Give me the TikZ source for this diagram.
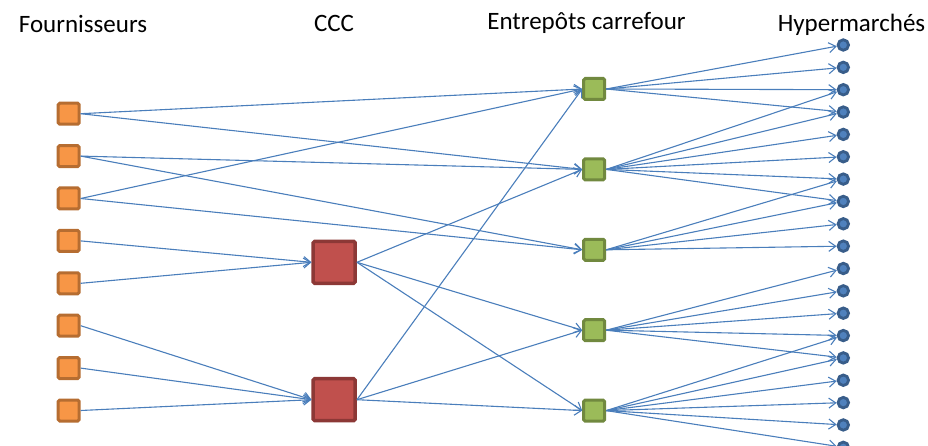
\documentclass[tikz,border=0pt]{standalone}
\usepackage{fontspec}
\setmainfont{Carlito}
\usepackage{tikz}
\usetikzlibrary{arrows.meta}
\usetikzlibrary{scopes}

\definecolor{supfill}{HTML}{F79646}
\definecolor{supdraw}{HTML}{B66D31}
\definecolor{cccfill}{HTML}{C0504D}
\definecolor{cccdraw}{HTML}{8C3836}
\definecolor{entfill}{HTML}{9BBB59}
\definecolor{entdraw}{HTML}{71893F}
\definecolor{hypfill}{HTML}{4F81BD}
\definecolor{hypdraw}{HTML}{385D8A}
\definecolor{linkblue}{HTML}{4A7EBB}

\begin{document}
\begin{tikzpicture}[x=1pt,y=-1pt,
    supplier/.style={rectangle,rounded corners=1.5pt,draw=supdraw,fill=supfill,line width=3pt,minimum size=21pt,inner sep=0pt},
    ccc/.style={rectangle,rounded corners=1.5pt,draw=cccdraw,fill=cccfill,line width=3.5pt,minimum size=42pt,inner sep=0pt},
    depot/.style={rectangle,rounded corners=1.5pt,draw=entdraw,fill=entfill,line width=3pt,minimum size=21pt,inner sep=0pt},
    hyper/.style={circle,draw=hypdraw,fill=hypfill,line width=2.8pt,minimum size=10.5pt,inner sep=0pt},
    title/.style={anchor=base,font=\fontsize{25}{30}\selectfont}]
\useasboundingbox (0,0) rectangle (928,446);

% column titles
\node[title] (tf) at (83,33) {Fournisseurs};
\node[title] (tc) at (334,32) {CCC};
\node[title] (te) at (586.5,30) {Entrepôts carrefour};
\node[title] (th) at (851.5,32) {Hypermarchés};

\begin{scope}[every node/.style={supplier}]
    \node (f1) at (68.7,113.7) {};
    \node (f2) at (68.7,156.1) {};
    \node (f3) at (68.7,198.5) {};
    \node (f4) at (68.7,240.9) {};
    \node (f5) at (68.7,283.3) {};
    \node (f6) at (68.7,325.7) {};
    \node (f7) at (68.7,368.1) {};
    \node (f8) at (68.7,410.5) {};
\end{scope}

\begin{scope}[every node/.style={ccc}]
    \node (c1) at (334.2,262.3) {};
    \node (c2) at (334.2,399.7) {};
\end{scope}

\begin{scope}[every node/.style={depot}]
    \node (e1) at (594.2,89) {};
    \node (e2) at (594.2,169.4) {};
    \node (e3) at (594.2,249.8) {};
    \node (e4) at (594.2,330.2) {};
    \node (e5) at (594.2,410.6) {};
\end{scope}

\begin{scope}[every node/.style={hyper}]
    \node (h1) at (843.3,45) {};
    \node (h2) at (843.3,67.35) {};
    \node (h3) at (843.3,89.7) {};
    \node (h4) at (843.3,112.05) {};
    \node (h5) at (843.3,134.4) {};
    \node (h6) at (843.3,156.75) {};
    \node (h7) at (843.3,179.1) {};
    \node (h8) at (843.3,201.45) {};
    \node (h9) at (843.3,223.8) {};
    \node (h10) at (843.3,246.15) {};
    \node (h11) at (843.3,268.5) {};
    \node (h12) at (843.3,290.85) {};
    \node (h13) at (843.3,313.2) {};
    \node (h14) at (843.3,335.55) {};
    \node (h15) at (843.3,357.9) {};
    \node (h16) at (843.3,380.25) {};
    \node (h17) at (843.3,402.6) {};
    \node (h18) at (843.3,424.95) {};
    \node (h19) at (843.3,447.3) {};
\end{scope}

\begin{scope}[>={Straight Barb[length=7pt,width=10pt]},
              every edge/.style={draw=linkblue,line width=1.1pt}]
    % fournisseurs
    \path [->] (f1.east) edge (e1.west);
    \path [->] (f1.east) edge (e2.west);
    \path [->] (f2.east) edge (e2.west);
    \path [->] (f2.east) edge (e3.west);
    \path [->] (f3.east) edge (e1.west);
    \path [->] (f3.east) edge (e3.west);
    \path [->] (f4.east) edge (c1.west);
    \path [->] (f5.east) edge (c1.west);
    \path [->] (f6.east) edge (c2.west);
    \path [->] (f7.east) edge (c2.west);
    \path [->] (f8.east) edge (c2.west);
    % CCC
    \path [->] (c1.east) edge (e2.west);
    \path [->] (c1.east) edge (e4.west);
    \path [->] (c1.east) edge (e5.west);
    \path [->] (c2.east) edge (e1.west);
    \path [->] (c2.east) edge (e4.west);
    \path [->] (c2.east) edge (e5.west);
    % entrepots
    \path [->] (e1.east) edge (h1);
    \path [->] (e1.east) edge (h2);
    \path [->] (e1.east) edge (h3);
    \path [->] (e1.east) edge (h4);
    \path [->] (e2.east) edge (h3);
    \path [->] (e2.east) edge (h4);
    \path [->] (e2.east) edge (h5);
    \path [->] (e2.east) edge (h6);
    \path [->] (e2.east) edge (h7);
    \path [->] (e2.east) edge (h8);
    \path [->] (e3.east) edge (h7);
    \path [->] (e3.east) edge (h8);
    \path [->] (e3.east) edge (h9);
    \path [->] (e3.east) edge (h10);
    \path [->] (e4.east) edge (h11);
    \path [->] (e4.east) edge (h12);
    \path [->] (e4.east) edge (h13);
    \path [->] (e4.east) edge (h14);
    \path [->] (e4.east) edge (h15);
    \path [->] (e5.east) edge (h14);
    \path [->] (e5.east) edge (h15);
    \path [->] (e5.east) edge (h16);
    \path [->] (e5.east) edge (h17);
    \path [->] (e5.east) edge (h18);
    \path [->] (e5.east) edge (h19);
\end{scope}
\end{tikzpicture}
\end{document}
